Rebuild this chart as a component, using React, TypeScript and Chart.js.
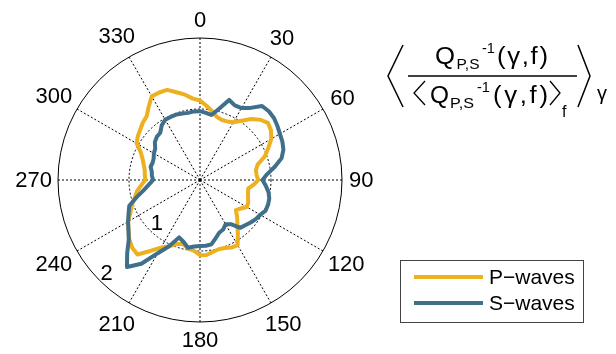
import React, { useEffect, useRef } from 'react';
import { Chart, registerables } from 'chart.js';

Chart.register(...registerables);

// Angle categories (degrees, clockwise from north)
const angleCategories = [
  0, 5, 10, 15, 20, 25, 30, 35, 40, 45, 50, 55,
  60, 65, 70, 75, 80, 85, 90, 95, 100, 105, 110, 115,
  120, 125, 130, 135, 140, 145, 150, 155, 160, 165, 170, 175,
  180, 185, 190, 195, 200, 205, 210, 215, 220, 225, 230, 235,
  240, 245, 250, 255, 260, 265, 270, 275, 280, 285, 290, 295,
  300, 305, 310, 315, 320, 325, 330, 335, 340, 345, 350, 355,
];

// P-waves normalized attenuation
const pWaves = [
  1.12, 1.05, 0.98, 0.92, 0.90, 0.91, 0.94, 1.02, 1.12, 1.20, 1.25, 1.22,
  1.16, 1.06, 0.97, 0.84, 0.80, 0.80, 0.82, 0.76, 0.69, 0.70, 0.72, 0.75,
  0.76, 0.70, 0.66, 0.74, 0.82, 0.93, 1.06, 1.05, 1.02, 1.01, 1.03, 1.06,
  1.06, 1.00, 0.98, 0.93, 0.96, 1.03, 1.10, 1.22, 1.37, 1.35, 1.30, 1.23,
  1.17, 1.08, 1.02, 0.95, 0.90, 0.83, 0.77, 0.78, 0.79, 0.82, 0.86, 0.92,
  1.03, 1.07, 1.10, 1.14, 1.17, 1.26, 1.36, 1.36, 1.35, 1.28, 1.22, 1.15,
];

// S-waves normalized attenuation
const sWaves = [
  0.97, 0.95, 0.93, 1.04, 1.20, 1.16, 1.17, 1.24, 1.36, 1.37, 1.36, 1.33,
  1.30, 1.28, 1.25, 1.19, 1.07, 0.95, 0.88, 0.93, 0.98, 1.01, 1.02, 1.02,
  0.98, 0.96, 0.93, 0.90, 0.88, 0.76, 0.72, 0.77, 0.79, 0.85, 0.92, 0.93,
  0.93, 0.94, 0.97, 0.90, 0.86, 1.03, 1.19, 1.44, 1.60, 1.45, 1.31, 1.23,
  1.17, 1.11, 1.06, 0.92, 0.80, 0.72, 0.66, 0.68, 0.69, 0.72, 0.71, 0.72,
  0.75, 0.77, 0.83, 0.86, 0.87, 0.94, 0.98, 0.98, 0.98, 0.97, 0.96, 0.97,
];

const angleTickLabels = ['0', '30', '60', '90', '120', '150', '180', '210', '240', '270', '300', '330'];
const radialTicks = [1, 2];
const seriesLabels = ['P\u2212waves', 'S\u2212waves'];
const seriesColors = ['#EDB120', '#3F6F8A'];

const FONT = '"Liberation Sans", Arial, Helvetica, sans-serif';

function txt(ctx: CanvasRenderingContext2D, s: string, x: number, y: number, size: number) {
  ctx.font = `${size}px ${FONT}`;
  ctx.fillText(s, x, y);
}

// draws text starting at x, stretched (mildly) / letter-spaced to span targetW
function fitTxt(ctx: CanvasRenderingContext2D, s: string, x: number, y: number, size: number, targetW: number) {
  ctx.font = `${size}px ${FONT}`;
  const w = ctx.measureText(s).width;
  const sx = Math.min(1.12, targetW / w);
  const extra = Math.max(0, targetW - w * sx);
  ctx.save();
  ctx.translate(x, y);
  ctx.scale(sx, 1);
  const ls = s.length > 1 ? extra / sx / (s.length - 1) : 0;
  if (ls > 0 && 'letterSpacing' in ctx) {
    (ctx as any).letterSpacing = `${ls}px`;
  }
  ctx.fillText(s, 0, 0);
  ctx.restore();
}

function poly(ctx: CanvasRenderingContext2D, pts: number[][], w: number) {
  ctx.beginPath();
  ctx.moveTo(pts[0][0], pts[0][1]);
  for (let i = 1; i < pts.length; i++) ctx.lineTo(pts[i][0], pts[i][1]);
  ctx.lineWidth = w;
  ctx.stroke();
}

const overlayPlugin = {
  id: 'overlay',
  afterDraw(chart: any) {
    const ctx: CanvasRenderingContext2D = chart.ctx;
    const s = chart.scales.r;
    ctx.save();
    ctx.fillStyle = '#000';
    ctx.strokeStyle = '#000';
    ctx.setLineDash([]);

    // angle labels
    ctx.font = `22px ${FONT}`;
    ctx.textAlign = 'center';
    ctx.textBaseline = 'middle';
    angleTickLabels.forEach((t) => {
      const deg = Number(t);
      const idx = angleCategories.indexOf(deg);
      const th = (deg * Math.PI) / 180;
      const w = ctx.measureText(t).width;
      const d = s.drawingArea + 9 + Math.abs(Math.sin(th)) * w * 0.42 + Math.abs(Math.cos(th)) * 9;
      const p = s.getPointPosition(idx, d);
      ctx.fillText(t, p.x, p.y + 1);
    });

    // radial tick labels
    const idx225 = angleCategories.indexOf(225);
    radialTicks.forEach((v) => {
      const p = s.getPointPosition(idx225, s.getDistanceFromCenterForValue(v - 0.14));
      ctx.fillText(String(v), p.x, p.y + 1);
    });

    // formula
    ctx.textAlign = 'left';
    ctx.textBaseline = 'alphabetic';
    ctx.lineJoin = 'miter';
    poly(ctx, [[403, 45], [388, 76], [403, 107]], 1.5);
    fitTxt(ctx, 'Q', 435, 64, 23, 20);
    fitTxt(ctx, 'P,S', 456.5, 68.5, 15, 23);
    fitTxt(ctx, '-1', 482, 53, 15, 13);
    fitTxt(ctx, '(\u03B3,f)', 497, 64, 23, 51);
    poly(ctx, [[408, 76], [577, 76]], 1.5);
    poly(ctx, [[425, 81], [414, 93], [425, 105]], 1.3);
    fitTxt(ctx, 'Q', 430, 103, 23, 19);
    fitTxt(ctx, 'P,S', 450, 108, 15, 24);
    fitTxt(ctx, '-1', 477, 92, 15, 13);
    fitTxt(ctx, '(\u03B3,f)', 493, 103, 23, 55);
    poly(ctx, [[550, 81], [560, 93], [550, 105]], 1.3);
    txt(ctx, 'f', 562, 117, 16);
    poly(ctx, [[578, 45], [590, 76], [578, 107]], 1.5);
    txt(ctx, '\u03B3', 597, 100, 20);

    // legend
    ctx.fillStyle = '#fff';
    ctx.fillRect(400, 260, 183, 62);
    ctx.strokeStyle = '#444';
    ctx.lineWidth = 1;
    ctx.strokeRect(400.5, 260.5, 183, 62);
    ctx.textBaseline = 'middle';
    chart.data.datasets.forEach((ds: any, i: number) => {
      const y = 277 + i * 26;
      ctx.strokeStyle = ds.borderColor;
      ctx.lineWidth = 4;
      ctx.beginPath();
      ctx.moveTo(414, y);
      ctx.lineTo(483, y);
      ctx.stroke();
      ctx.fillStyle = '#000';
      txt(ctx, ds.label, 489, y + 1, 21);
    });
    ctx.restore();
  },
};

export default function App() {
  const ref = useRef<HTMLCanvasElement | null>(null);
  useEffect(() => {
    if (!ref.current) return;
    const chart = new Chart(ref.current, {
      type: 'radar',
      data: {
        labels: angleCategories.map(String),
        datasets: [
          {
            label: seriesLabels[0],
            data: pWaves,
            borderColor: seriesColors[0],
            backgroundColor: 'transparent',
            borderWidth: 4,
            pointRadius: 0,
            fill: false,
            order: 1,
          },
          {
            label: seriesLabels[1],
            data: sWaves,
            borderColor: seriesColors[1],
            backgroundColor: 'transparent',
            borderWidth: 4,
            pointRadius: 0,
            fill: false,
            order: 0,
          },
        ],
      },
      options: {
        responsive: false,
        animation: false,
        devicePixelRatio: 1,
        layout: { padding: { left: 58, right: 274, top: 38, bottom: 32 } },
        plugins: { legend: { display: false }, tooltip: { enabled: false } },
        elements: { line: { tension: 0, borderJoinStyle: 'round' } },
        scales: {
          r: {
            min: 0,
            max: 2,
            startAngle: 0,
            ticks: { display: false, stepSize: 1 },
            pointLabels: { display: false },
            grid: { circular: true, color: '#000', lineWidth: 1 },
            border: { dash: (c: any) => (c.index === 2 ? [] : [2, 2]) },
            angleLines: {
              display: true,
              color: '#000',
              lineWidth: (c: any) => (c.index % 6 === 0 ? 1 : 0),
              borderDash: [2, 2],
            },
          },
        },
      } as any,
      plugins: [overlayPlugin],
    });
    return () => chart.destroy();
  }, []);
  return (
    <div style={{ position: 'fixed', left: 0, top: 0, width: 616, height: 354, background: '#fff' }}>
      <canvas ref={ref} width={616} height={354} />
    </div>
  );
}
